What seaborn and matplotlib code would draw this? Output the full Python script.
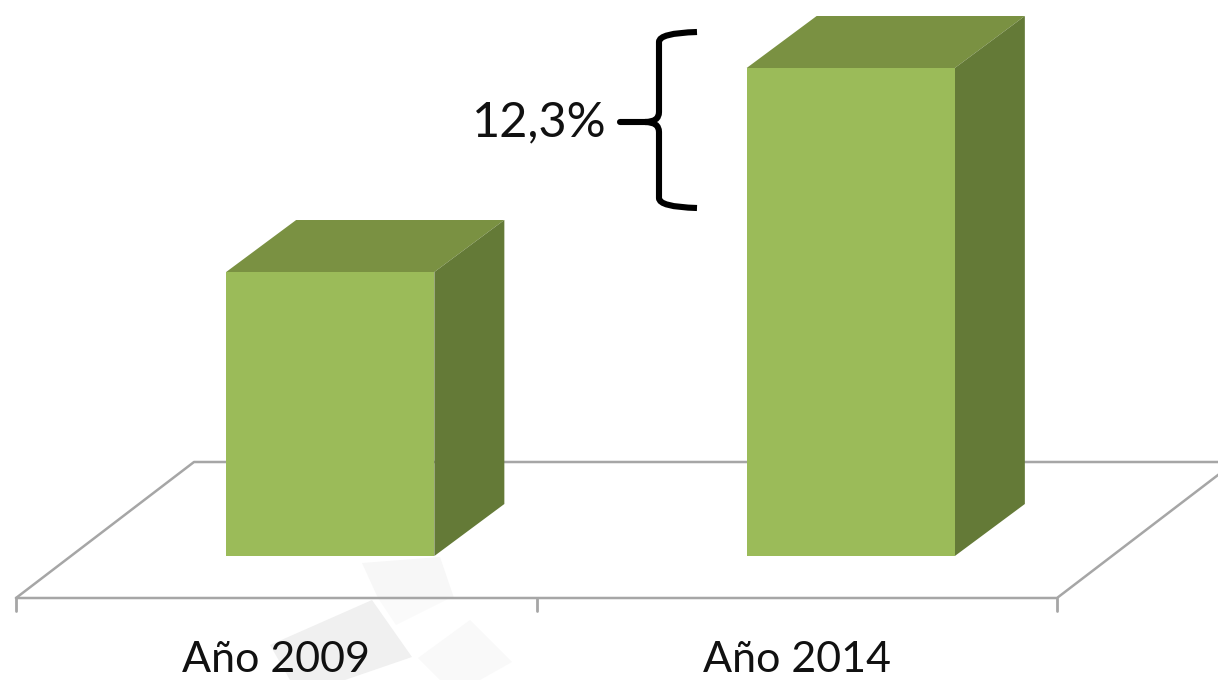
import matplotlib
matplotlib.use("Agg")
import matplotlib.pyplot as plt
from matplotlib.patches import Polygon, PathPatch
from matplotlib.path import Path
import pandas as pd
import seaborn as sns

# Data (arbitrary height units)
years = ["Año 2009", "Año 2014"]
heights = [284, 488]
annotation = "12,3%"

FRONT, TOP, SIDE = "#9BBB59", "#7A9142", "#647A37"
GRID = "#A6A6A6"

W, H = 1218, 680
sns.set_theme(style="white")
plt.rcParams["font.family"] = ["Lato", "DejaVu Sans"]

fig = plt.figure(figsize=(W / 100, H / 100), dpi=100, facecolor="white")
ax = fig.add_axes([16 / W, 0, (1057 - 16) / W, 1])
ax.set_xlim(-0.5, 1.5)
ax.set_ylim(556 - H, 556)   # 1 unit = 1 pixel vertically, 0 on the bars' base
ux = (1057 - 16) / 2        # pixels per category


def px(x):
    return (x - 16) / ux - 0.5


def py(y):
    return 556 - y


# faint watermark behind the chart
for pts, c in [
    ([(362, 563), (440, 557), (454, 598), (378, 598)], "#F7F7F7"),
    ([(378, 598), (450, 598), (396, 625)], "#FAFAFA"),
    ([(372, 600), (412, 657), (345, 680), (290, 680), (270, 645)], "#F0F0F0"),
    ([(418, 658), (470, 620), (512, 662), (480, 680), (440, 680)], "#F9F9F9"),
]:
    ax.add_patch(Polygon([(px(a), py(b)) for a, b in pts], closed=True, fc=c, ec="none", zorder=0))

# floor
floor_dx, floor_dy = 178 / ux, 136
front = -42
ax.plot([-0.5, -0.5 + floor_dx, 1.5 + floor_dx], [front, front + floor_dy, front + floor_dy],
        color=GRID, lw=1.8, clip_on=False, zorder=1)
ax.plot([-0.5, 1.5, 1.5 + floor_dx], [front, front, front + floor_dy],
        color=GRID, lw=1.8, clip_on=False, zorder=1)

# bars
df = pd.DataFrame({"year": years, "height": heights})
sns.barplot(data=df, x="year", y="height", color=FRONT, saturation=1, width=0.4, linewidth=0, ax=ax, zorder=3)
ax.set_xlim(-0.5, 1.5)
ax.set_ylim(556 - H, 556)

# the 3-D bars sit set back towards the right of each category
bar_shift = 54 / ux
depth_x, depth_y = 70 / ux, 52
for bar in list(ax.patches):
    if bar.get_zorder() != 3:
        continue
    bar.set_x(bar.get_x() + bar_shift)
    x0, x1, h = bar.get_x(), bar.get_x() + bar.get_width(), bar.get_height()
    ax.add_patch(Polygon([(x0, h), (x1, h), (x1 + depth_x, h + depth_y), (x0 + depth_x, h + depth_y)],
                         closed=True, fc=TOP, ec="none", zorder=2))
    ax.add_patch(Polygon([(x1, 0), (x1, h), (x1 + depth_x, h + depth_y), (x1 + depth_x, depth_y)],
                         closed=True, fc=SIDE, ec="none", zorder=2))

# category ticks and labels
for x in [-0.5, 0.5, 1.5]:
    ax.plot([x, x], [front, front - 13], color=GRID, lw=2, clip_on=False, zorder=1)
for i, label in enumerate(years):
    ax.text(i, py(660), label, ha="center", va="center", fontsize=31, color="#111111", zorder=5)
ax.set_xlabel("")
ax.set_ylabel("")
ax.set_xticks([])
ax.set_yticks([])
sns.despine(ax=ax, left=True, bottom=True, top=True, right=True)
ax.patch.set_alpha(0)

# brace and annotation
codes = [Path.MOVETO, Path.CURVE3, Path.CURVE3, Path.LINETO, Path.CURVE3, Path.CURVE3,
         Path.CURVE3, Path.CURVE3, Path.LINETO, Path.CURVE3, Path.CURVE3]
brace = [(697, 32), (659, 33), (659, 42), (659, 112), (659, 122), (645, 122),
         (659, 122), (659, 132), (659, 198), (659, 207), (697, 208)]
ax.add_patch(PathPatch(Path([(px(a), py(b)) for a, b in brace], codes),
                       fc="none", ec="black", lw=4.4, capstyle="butt", zorder=5, clip_on=False))
ax.plot([px(620), px(648)], [py(122), py(122)], color="black", lw=4.4, solid_capstyle="round", zorder=5)
ax.text(px(539), py(122), annotation, ha="center", va="center", fontsize=35, color="#111111", zorder=5)

fig.savefig("out.png", dpi=100, facecolor="white")
